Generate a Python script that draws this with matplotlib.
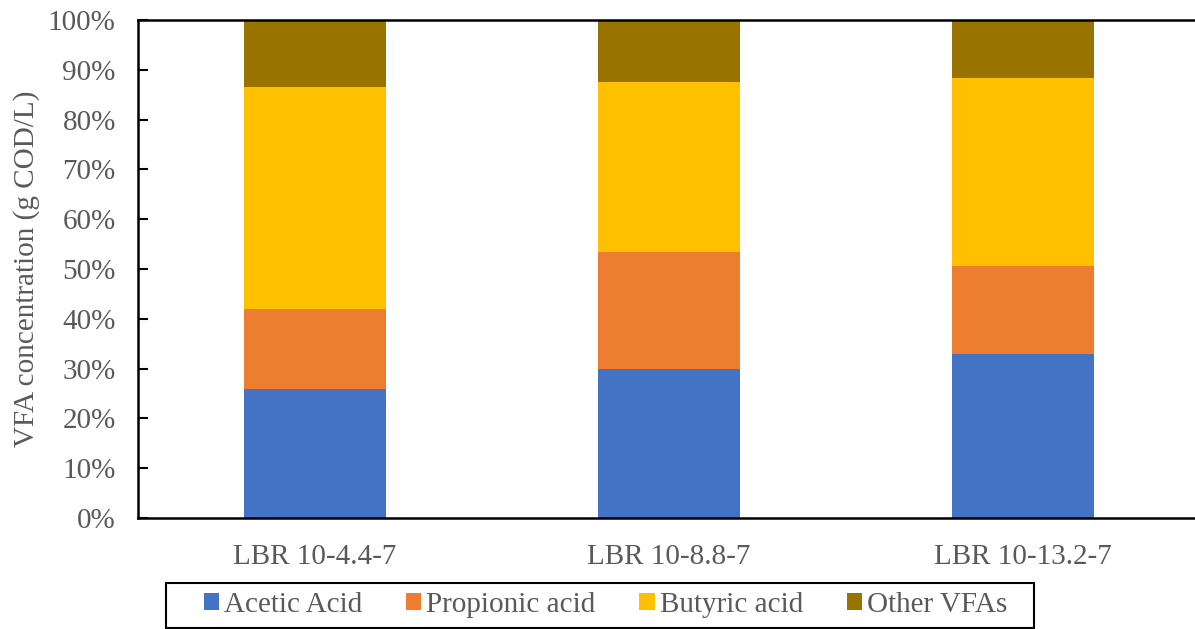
import numpy as np
import matplotlib.pyplot as plt
from matplotlib.patches import Rectangle
from matplotlib.ticker import PercentFormatter

plt.rcParams['font.family'] = ['Liberation Serif', 'DejaVu Serif']

# reactor runs and VFA fractions (% of total COD)
reactors = ['LBR 10-4.4-7', 'LBR 10-8.8-7', 'LBR 10-13.2-7']
acetic = [25.9, 29.9, 32.9]
propionic = [16.1, 23.5, 17.7]
butyric = [44.5, 34.1, 37.8]
other = [13.5, 12.5, 11.6]

series = [('Acetic Acid', acetic, '#4472C4'),
          ('Propionic acid', propionic, '#ED7D31'),
          ('Butyric acid', butyric, '#FFC000'),
          ('Other VFAs', other, '#997300')]

grey = '#595959'
fs = 21

fig = plt.figure(figsize=(11.95, 6.29), dpi=100)
ax = fig.add_axes([138/1195, 111/629, 1062/1195, 498/629])

x = np.arange(len(reactors))
bottom = np.zeros(len(reactors))
for name, vals, col in series:
    ax.bar(x, vals, width=0.4, bottom=bottom, color=col, label=name, zorder=2)
    bottom += np.array(vals)

ax.set_xlim(-0.5, 2.5)
ax.set_ylim(0, 100)
ax.set_yticks(np.arange(0, 101, 10))
ax.yaxis.set_major_formatter(PercentFormatter(decimals=0))
ax.set_xticks(x)
ax.set_xticklabels(reactors)

ax.tick_params(axis='y', direction='in', length=7, width=1.5, color='black',
               labelsize=fs, labelcolor=grey, pad=16)
ax.tick_params(axis='x', length=0, labelsize=fs, labelcolor=grey, pad=19)
for side in ['left', 'bottom', 'top']:
    ax.spines[side].set_linewidth(1.8)
ax.spines['right'].set_visible(False)

ax.set_ylabel('VFA concentration (g COD/L)', fontsize=fs, color=grey, labelpad=6)

# legend entries without frame, box drawn separately
leg = fig.legend(loc='center', bbox_to_anchor=(605.5/1195, 1 - 605/629), ncol=4,
                 fontsize=fs, frameon=False,
                 handlelength=0.52, handleheight=0.52, handletextpad=0.17,
                 columnspacing=1.5, borderpad=0.0)
for t in leg.get_texts():
    t.set_color(grey)

fig.patches.append(Rectangle((166/1195, 1 - 628/629), 868/1195, 45/629,
                             transform=fig.transFigure, fill=False,
                             edgecolor='black', linewidth=1.5))

fig.savefig('out.png', dpi=100)
